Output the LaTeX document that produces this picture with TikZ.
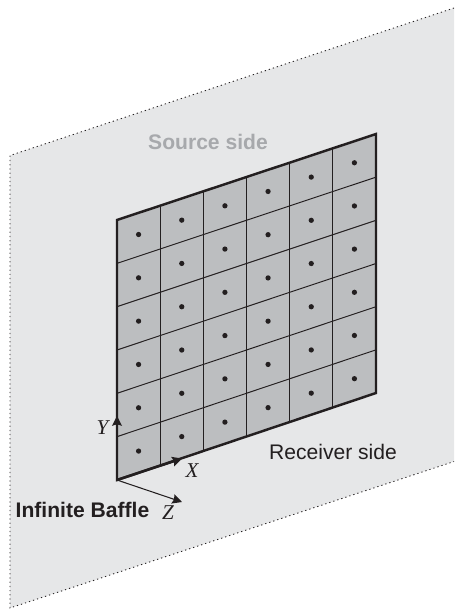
\documentclass[tikz,border=0pt]{standalone}
\usepackage{fontspec}
\setmainfont{Liberation Sans}
\newfontfamily\axisfont{Liberation Serif}
\usepackage{xcolor}
\usetikzlibrary{arrows.meta,calc}
\definecolor{cbaffle}{HTML}{E6E7E8}
\definecolor{cpanel}{HTML}{BCBEC0}
\definecolor{cink}{HTML}{231F20}
\definecolor{clabel}{HTML}{A7A9AC}
\tikzset{
  edgeline/.style={cink,line width=0.5pt,dash pattern=on 0.7pt off 1.7pt},
  gridline/.style={cink,line width=0.55pt},
  rimline/.style={cink,line width=1.4pt},
  axislabel/.style={font=\axisfont\itshape\fontsize{12}{14}\selectfont,text=cink,inner sep=0pt},
  sidelabel/.style={font=\fontsize{12}{14}\selectfont,text=cink,inner sep=0pt},
  boldlabel/.style={sidelabel,font=\bfseries\fontsize{12}{14}\selectfont},
  axistip/.style={-{Stealth[length=5.5pt,width=5.5pt,inset=0.8pt]},cink},
}
\begin{document}
\begin{tikzpicture}[x=0.02cm,y=-0.02cm]
  \useasboundingbox (0,0) rectangle (454,609);
  % baffle
  \coordinate (tl) at (10,155.5);
  \coordinate (tr) at (454,8);
  \coordinate (br) at (454,461.5);
  \coordinate (bl) at (10,608);
  \fill[cbaffle] (tl) -- (tr) -- (br) -- (bl) -- cycle;
  \draw[edgeline] (tr) -- (tl) -- (bl) -- (br);
  % panel
  \coordinate (pa) at (117,480);
  \coordinate (pb) at (376,393);
  \coordinate (pc) at (376,134);
  \coordinate (pd) at (117,220);
  \fill[cpanel] (pa) -- (pb) -- (pc) -- (pd) -- cycle;
  \foreach \i in {1,...,5} {
    \draw[gridline] ($(pa)!\i/6!(pb)$) -- ($(pd)!\i/6!(pc)$);
    \draw[gridline] ($(pa)!\i/6!(pd)$) -- ($(pb)!\i/6!(pc)$);
  }
  \foreach \i in {1,...,6} {
    \foreach \j in {1,...,6} {
      \fill[cink] ($($(pa)!{(\i-0.5)/6}!(pb)$)!{(\j-0.5)/6}!($(pd)!{(\i-0.5)/6}!(pc)$)$) circle (1.5pt);
    }
  }
  \draw[rimline,line join=miter] (pa) -- (pb) -- (pc) -- (pd) -- cycle;
  % axes
  \coordinate (ytip) at (117,416);
  \coordinate (xtip) at (182,458.5);
  \coordinate (ztip) at (182,502);
  \draw[axistip,line width=1.4pt] (pa) -- (ytip);
  \draw[axistip,line width=1.4pt] (pa) -- (xtip);
  \draw[axistip,line width=0.6pt] (pa) -- (ztip);
  \node[axislabel] (ylabel) at (102.5,428) {Y};
  \node[axislabel] (xlabel) at (192,471) {X};
  \node[axislabel] (zlabel) at (168,513) {Z};
  % sides
  \node[boldlabel,text=clabel] (source) at (208,142) {Source side};
  \node[sidelabel] (receiver) at (333,452) {Receiver side};
  \node[boldlabel] (baffle) at (82.5,510) {Infinite Baffle};
\end{tikzpicture}
\end{document}
